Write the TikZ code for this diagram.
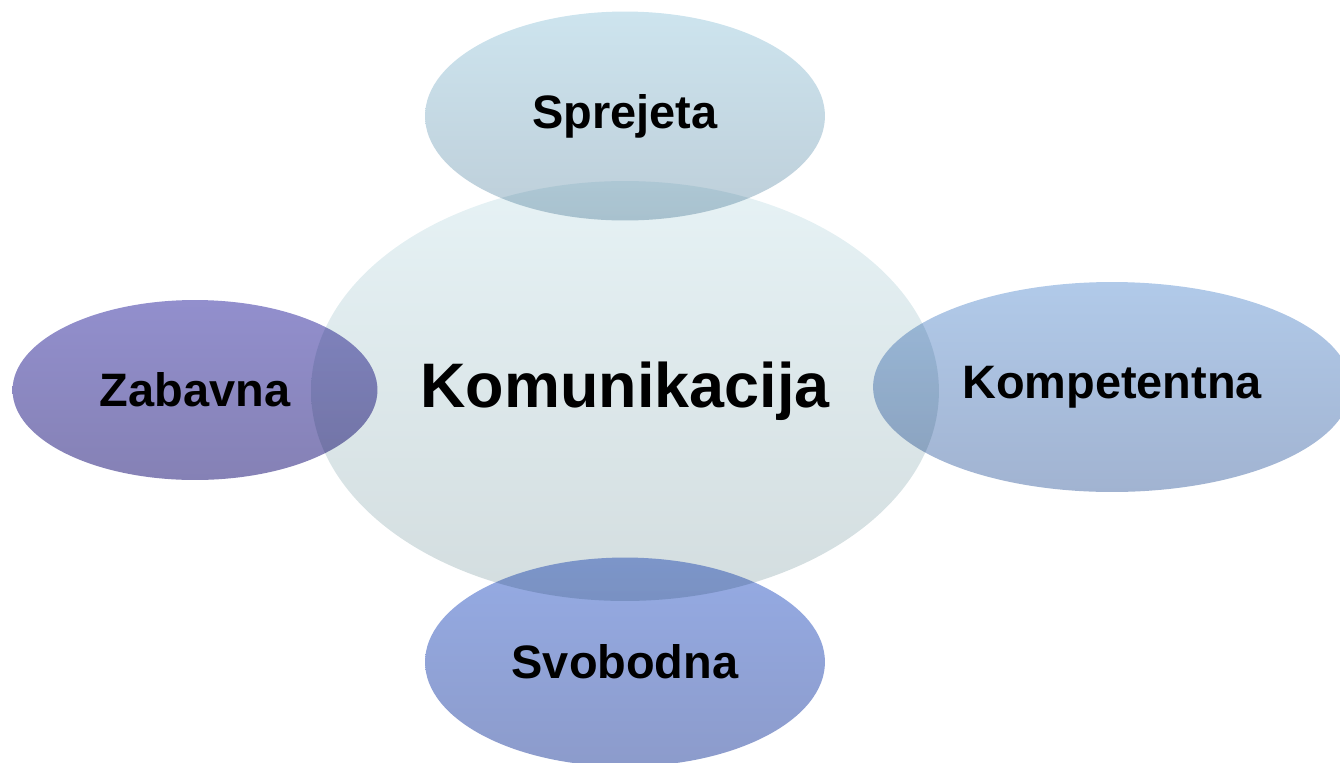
\documentclass[tikz,border=0pt]{standalone}
\usepackage{fontspec}
\setmainfont{Liberation Sans}
\usepackage{tikz}
\usetikzlibrary{shapes.geometric, positioning}
\usepackage{xcolor}

\definecolor{srediscegor}{RGB}{230,242,245}
\definecolor{srediscedol}{RGB}{211,221,223}
\definecolor{sprejetagor}{RGB}{205,228,238}
\definecolor{sprejetadol}{RGB}{189,206,217}
\definecolor{zabavnagor}{RGB}{146,143,205}
\definecolor{zabavnadol}{RGB}{133,129,181}
\definecolor{kompgor}{RGB}{177,202,233}
\definecolor{kompdol}{RGB}{161,179,209}
\definecolor{svobodnagor}{RGB}{149,171,228}
\definecolor{svobodnadol}{RGB}{140,155,203}

\begin{document}
\begin{tikzpicture}[x=0.02cm, y=-0.02cm,
              krog/.style={ellipse, inner sep=0pt, font=\fontsize{26.7pt}{30pt}\selectfont\bfseries},
              glavni/.style={krog, font=\fontsize{35.8pt}{40pt}\selectfont\bfseries}
            ]
            \useasboundingbox (0,0) rectangle (1340,762);

            \begin{scope}[blend mode=multiply]
            % Središče
            \node[glavni, minimum width=12.56cm, minimum height=8.4cm,
                  top color=srediscegor, bottom color=srediscedol] (komunikacija) at (625,391) {Komunikacija};

            % Lastnosti
            \node[krog, minimum width=8cm, minimum height=4.18cm,
                  top color=sprejetagor, bottom color=sprejetadol] (sprejeta) at (625,116) {Sprejeta};
            \node[krog, minimum width=7.3cm, minimum height=3.6cm,
                  top color=zabavnagor, bottom color=zabavnadol] (zabavna) at (195,390) {Zabavna};
            \node[krog, minimum width=9.56cm, minimum height=4.2cm,
                  top color=kompgor, bottom color=kompdol] (kompetentna) at (1112,387) {Kompetentna};
            \node[krog, minimum width=8cm, minimum height=4.18cm,
                  top color=svobodnagor, bottom color=svobodnadol] (svobodna) at (625,662) {Svobodna};
            \end{scope}

            \end{tikzpicture}
\end{document}
